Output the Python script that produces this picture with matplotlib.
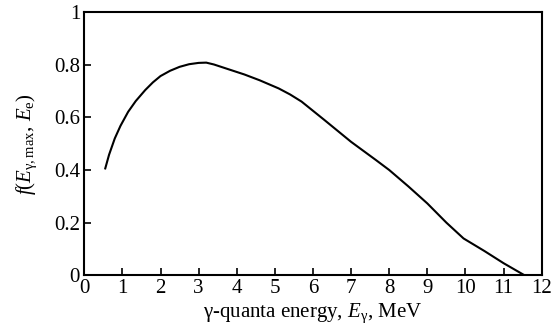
import matplotlib
matplotlib.use('Agg')
import matplotlib.pyplot as plt

plt.rcParams['font.family'] = 'serif'
plt.rcParams['font.serif'] = ['Liberation Serif', 'DejaVu Serif']
plt.rcParams['mathtext.fontset'] = 'custom'
plt.rcParams['mathtext.rm'] = 'Liberation Serif'
plt.rcParams['mathtext.it'] = 'Liberation Serif:italic'

energy = [0.55, 0.65, 0.8, 0.95, 1.15, 1.35, 1.6, 1.8, 2.0, 2.25, 2.5, 2.75, 3.0, 3.2,
          3.4, 3.8, 4.2, 4.6, 5.1, 5.4, 5.7, 6.3, 7.0, 7.65, 8.0, 8.5, 9.0, 9.5,
          9.95, 10.5, 11.0, 11.55]
f_val = [0.406, 0.458, 0.52, 0.568, 0.621, 0.662, 0.704, 0.733, 0.757, 0.777, 0.792, 0.802,
         0.807, 0.808, 0.801, 0.782, 0.763, 0.741, 0.71, 0.687, 0.66, 0.59, 0.507, 0.438,
         0.40, 0.338, 0.273, 0.2, 0.14, 0.092, 0.046, 0.0]

fig = plt.figure(figsize=(5.52, 3.36), dpi=100)
ax = fig.add_axes([0.1527, 0.1807, 0.8286, 0.7833])

ax.plot(energy, f_val, color='black', lw=1.5)

ax.set_xlim(0, 12)
ax.set_ylim(0, 1)
ax.set_xticks(range(0, 13))
ax.set_yticks([0, 0.2, 0.4, 0.6, 0.8, 1.0])
ax.set_yticklabels(['0', '0.2', '0.4', '0.6', '0.8', '1'])
ax.tick_params(direction='in', length=5, width=1.2, labelsize=15, pad=3)
for s in ax.spines.values():
    s.set_linewidth(1.5)

ax.set_xlabel(r'$\mathrm{\gamma}$-quanta energy, $E_\mathrm{\gamma}$, MeV', fontsize=15, labelpad=2)
ax.set_ylabel(r'$f(E_{\mathrm{\gamma},\mathrm{max}},\, E_\mathrm{e})$', fontsize=15, labelpad=11)

fig.savefig('out.png', dpi=100)
